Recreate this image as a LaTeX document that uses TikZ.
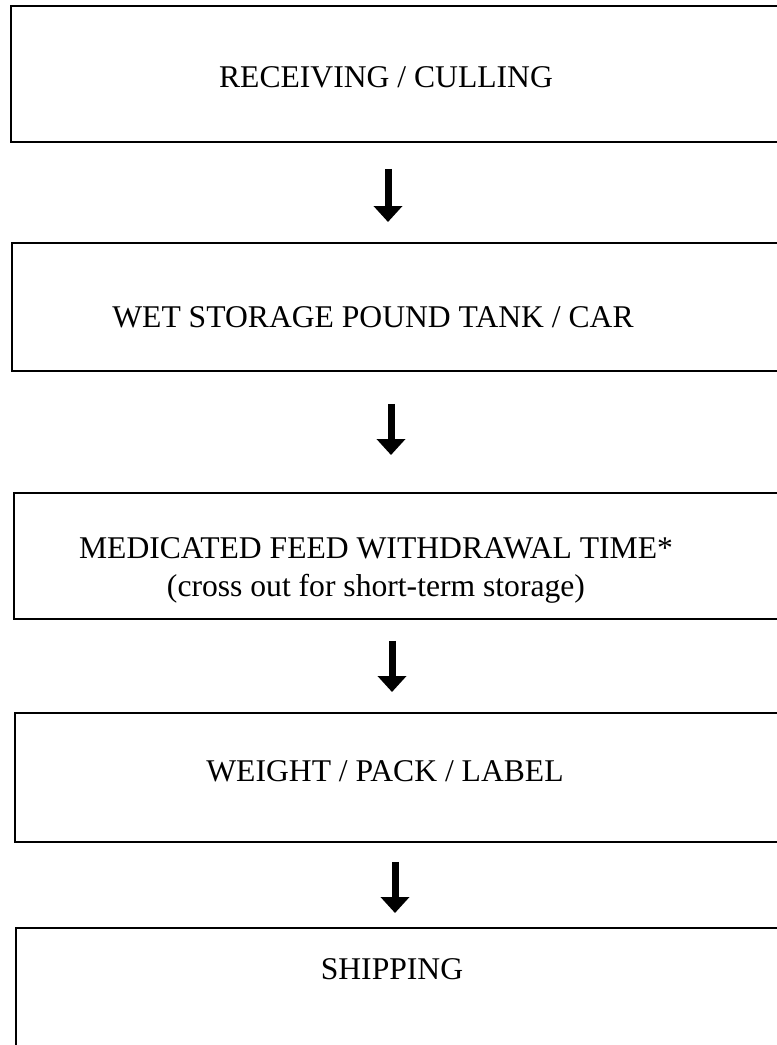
\documentclass[tikz,border=0pt]{standalone}
\usepackage{fontspec}
\setmainfont{Liberation Serif}
\usetikzlibrary{arrows.meta,positioning}

\begin{document}
\begin{tikzpicture}[x=0.02cm,y=-0.02cm,
  box/.style={draw,line width=1.1pt,anchor=north west,minimum width=15.8cm,inner sep=0pt},
  lbl/.style={anchor=base,align=center,font=\fontsize{18}{21.6}\selectfont},
  flow/.style={-{Triangle[width=0.56cm,length=0.32cm]},line width=0.14cm}]
  \useasboundingbox (0,0) rectangle (777,1045);
  \node[box,minimum height=2.72cm] (b1) at (10,5) {};
  \node[box,minimum height=2.56cm] (b2) at (11,242) {};
  \node[box,minimum height=2.52cm] (b3) at (13,492) {};
  \node[box,minimum height=2.58cm] (b4) at (14,712) {};
  \node[box,minimum height=4cm] (b5) at (15,927) {};
  \node[lbl] (t1) at (386,87) {RECEIVING / CULLING};
  \node[lbl] (t2) at (373,327) {WET STORAGE POUND TANK / CAR};
  % base of a two-line node sits on its last line
  \node[lbl] (t3) at (376,596) {MEDICATED FEED WITHDRAWAL TIME*\\(cross out for short-term storage)};
  \node[lbl] (t4) at (385,781) {WEIGHT / PACK / LABEL};
  \node[lbl] (t5) at (392,979) {SHIPPING};
  \coordinate (a1) at (388,0);
  \coordinate (a2) at (391,0);
  \coordinate (a3) at (392,0);
  \coordinate (a4) at (395,0);
  \draw[flow,shorten <=0.52cm,shorten >=0.4cm] (b1.south -| a1) -- (b2.north -| a1);
  \draw[flow,shorten <=0.64cm,shorten >=0.74cm] (b2.south -| a2) -- (b3.north -| a2);
  \draw[flow,shorten <=0.42cm,shorten >=0.4cm] (b3.south -| a3) -- (b4.north -| a3);
  \draw[flow,shorten <=0.38cm,shorten >=0.28cm] (b4.south -| a4) -- (b5.north -| a4);
\end{tikzpicture}
\end{document}
